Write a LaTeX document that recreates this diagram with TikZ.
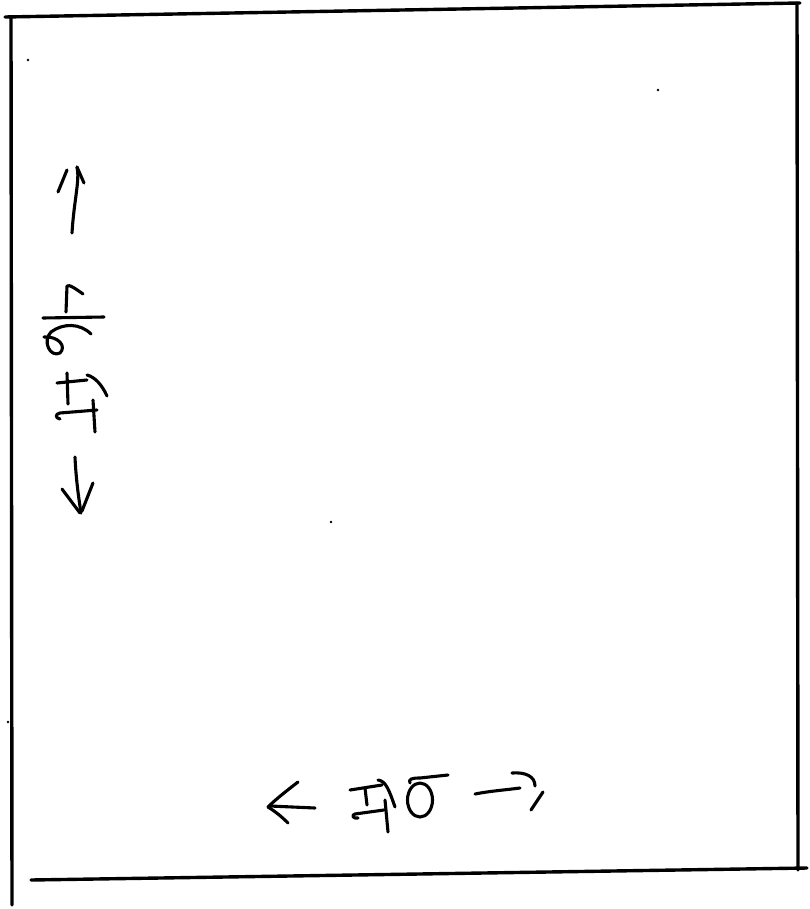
\documentclass[tikz,border=0pt]{standalone}
\begin{document}
\begin{tikzpicture}[x=1pt,y=-1pt,
  edge/.style={line width=3.4pt,line cap=round,line join=round},
  pen/.style={line width=3.1pt,line cap=round,line join=round},
  speck/.style={fill=black}]
\useasboundingbox (0,0) rectangle (809,909);
% frame
\draw[edge] (5,17) -- (800,3);
\draw[edge] (11,17) -- (12,905);
\draw[edge] (797,3) -- (798,870);
\draw[edge] (31,880) -- (807,868);
% specks
\fill[speck] (28,60) circle (1.3pt);
\fill[speck] (658,90) circle (1.3pt);
\fill[speck] (331,522) circle (1.3pt);
\fill[speck] (8,722) circle (1.3pt);
% bottom label: left arrow
\draw[pen] (298,782) .. controls (285,792) and (275,800) .. (268,807);
\draw[pen] (268,807) .. controls (276,812) and (282,817) .. (288,823);
\draw[pen] (270,806) -- (315,808);
% bottom glyph 1
\draw[pen] (350,790) -- (382,785);
\draw[pen] (365,788) -- (367,805);
\draw[pen] (378,780) .. controls (386,781) and (389,790) .. (395,807);
\draw[pen] (385,800) -- (388,832);
\draw[pen] (384,810) -- (355,814) .. controls (351,815) and (353,819) .. (358,818);
% bottom glyph 2
\draw[pen] (420,800) ellipse (12.5pt and 17pt);
\draw[pen] (410,783) .. controls (408,779) and (412,778) .. (420,778) -- (448,775);
% bottom label: right arrow
\draw[pen] (475,794) .. controls (490,791) and (505,790) .. (520,788);
\draw[pen] (512,773) .. controls (525,772) and (535,776) .. (535,786);
\draw[pen] (543,792) -- (531,810);
% left label: top arrow
\draw[pen] (77,167) .. controls (80,180) and (74,200) .. (72,233);
\draw[pen] (77,167) -- (84,183);
\draw[pen] (67,170) -- (58,192);
% left glyph 1
\draw[pen] (83,294) .. controls (76,289) and (69,284) .. (67,286) -- (66,312);
\draw[pen] (43,318) -- (104,317);
\draw[pen] (91,334) .. controls (80,323) and (63,323) .. (51,332)
  .. controls (42,341) and (50,358) .. (60,353)
  .. controls (67,346) and (58,336) .. (44,337);
% left glyph 2
\draw[pen] (67,373) -- (68,404);
\draw[pen] (57,383) -- (87,380);
\draw[pen] (87,375) .. controls (95,377) and (102,385) .. (107,396);
\draw[pen] (97,410) -- (60,413) .. controls (55,414) and (55,418) .. (60,419);
\draw[pen] (93,400) -- (95,432);
% left label: bottom arrow
\draw[pen] (75,457) .. controls (76,480) and (79,500) .. (81,513);
\draw[pen] (62,489) -- (80,513);
\draw[pen] (93,483) -- (82,511);
\end{tikzpicture}
\end{document}
